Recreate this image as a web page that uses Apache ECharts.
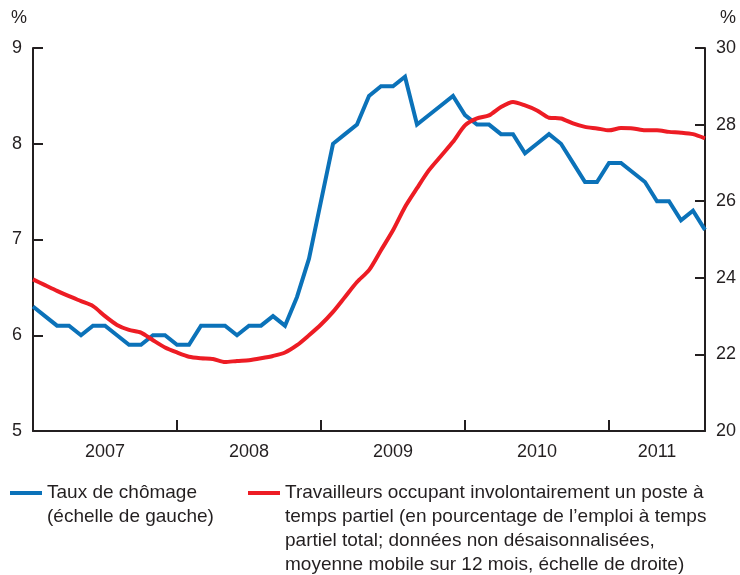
<!DOCTYPE html>
<html>
<head>
<meta charset="utf-8">
<script src="https://cdn.jsdelivr.net/npm/echarts@6/dist/echarts.min.js"></script>
<style>
  html, body { margin: 0; padding: 0; background: #fff; }
  #chart { width: 740px; height: 575px; }
</style>
</head>
<body>
<div id="chart"></div>
<script>
// monthly, Jan 2007 - Sep 2011
const months = [];
for (let y = 2007; y <= 2011; y++) {
  for (let m = 1; m <= 12; m++) {
    if (y === 2011 && m > 9) break;
    months.push(y + '-' + (m < 10 ? '0' + m : m));
  }
}

// year labels, shown under the middle of each year
const yearLabels = {
  '2007-07': '2007',
  '2008-07': '2008',
  '2009-07': '2009',
  '2010-07': '2010',
  '2011-05': '2011'
};

// unemployment rate, left scale
const unemployment = [
  6.3, 6.2, 6.1, 6.1, 6.0, 6.1, 6.1, 6.0, 5.9, 5.9, 6.0, 6.0,
  5.9, 5.9, 6.1, 6.1, 6.1, 6.0, 6.1, 6.1, 6.2, 6.1, 6.4, 6.8,
  7.4, 8.0, 8.1, 8.2, 8.5, 8.6, 8.6, 8.7, 8.2, 8.3, 8.4, 8.5,
  8.3, 8.2, 8.2, 8.1, 8.1, 7.9, 8.0, 8.1, 8.0, 7.8, 7.6, 7.6,
  7.8, 7.8, 7.7, 7.6, 7.4, 7.4, 7.2, 7.3, 7.1
];

// involuntary part-time workers, right scale
const involuntaryPartTime = [
  23.96, 23.81, 23.66, 23.52, 23.39, 23.26, 23.0, 22.77, 22.64, 22.57, 22.37, 22.18,
  22.05, 21.94, 21.9, 21.88, 21.8, 21.83, 21.85, 21.9, 21.96, 22.05, 22.24, 22.5,
  22.78, 23.11, 23.5, 23.89, 24.2, 24.72, 25.24, 25.85, 26.34, 26.81, 27.18, 27.55,
  27.98, 28.16, 28.24, 28.46, 28.59, 28.5, 28.37, 28.18, 28.16, 28.03, 27.94, 27.9,
  27.85, 27.91, 27.9, 27.85, 27.85, 27.81, 27.79, 27.75, 27.64
];

const nameBlue = 'Taux de chômage\n(échelle de gauche)';
const nameRed = 'Travailleurs occupant involontairement un poste à\ntemps partiel (en pourcentage de l’emploi à temps\npartiel total; données non désaisonnalisées,\nmoyenne mobile sur 12 mois, échelle de droite)';

const ink = '#231f20';
const font = 'Liberation Sans, Arial, Helvetica, sans-serif';
const blue = '#0b72b9';
const red = '#ed1c24';

// pad the legend text with blank lines on top so the icon sits on the first line
const alignFirstLine = (name) => '\n'.repeat(name.split('\n').length - 1) + name;

const chart = echarts.init(document.getElementById('chart'));

const axisLine = { show: true, lineStyle: { color: ink, width: 2 } };
const legendText = { fontFamily: font, fontSize: 19, color: ink, lineHeight: 24 };

chart.setOption({
  animation: false,
  textStyle: { fontFamily: font, color: ink },
  grid: { left: 33, right: 35, top: 48, bottom: 144, containLabel: false },
  legend: [
    {
      left: 10, top: 457, padding: 0,
      icon: 'rect', itemWidth: 32, itemHeight: 4,
      data: [nameBlue],
      formatter: alignFirstLine,
      textStyle: legendText
    },
    {
      left: 248, top: 409, padding: 0,
      icon: 'rect', itemWidth: 32, itemHeight: 4,
      data: [nameRed],
      formatter: alignFirstLine,
      textStyle: legendText
    }
  ],
  xAxis: {
    type: 'category',
    data: months,
    boundaryGap: false,
    axisLine: axisLine,
    axisTick: {
      show: true,
      inside: true,
      length: 11,
      interval: (i) => i % 12 === 0,
      lineStyle: { color: ink, width: 2 }
    },
    axisLabel: {
      interval: (i, v) => yearLabels[v] !== undefined,
      formatter: (v) => yearLabels[v] || '',
      fontSize: 18,
      color: ink,
      margin: 12
    },
    splitLine: { show: false }
  },
  yAxis: [
    {
      type: 'value',
      min: 5, max: 9, interval: 1,
      name: '%',
      nameLocation: 'end',
      nameGap: 21,
      nameTextStyle: { fontSize: 18, color: ink, padding: [0, 28, 0, 0] },
      axisLine: axisLine,
      axisTick: { show: true, inside: true, length: 10, lineStyle: { color: ink, width: 2 } },
      axisLabel: { fontSize: 18, color: ink, margin: 11 },
      splitLine: { show: false }
    },
    {
      type: 'value',
      min: 20, max: 30, interval: 2,
      position: 'right',
      name: '%',
      nameLocation: 'end',
      nameGap: 21,
      nameTextStyle: { fontSize: 18, color: ink, padding: [0, 0, 0, 46] },
      axisLine: axisLine,
      axisTick: { show: true, inside: true, length: 10, lineStyle: { color: ink, width: 2 } },
      axisLabel: { fontSize: 18, color: ink, margin: 11 },
      splitLine: { show: false }
    }
  ],
  series: [
    {
      name: nameBlue,
      type: 'line',
      yAxisIndex: 0,
      data: unemployment,
      symbol: 'none',
      lineStyle: { color: blue, width: 4, join: 'miter' },
      itemStyle: { color: blue }
    },
    {
      name: nameRed,
      type: 'line',
      yAxisIndex: 1,
      data: involuntaryPartTime,
      symbol: 'none',
      smooth: 0.25,
      lineStyle: { color: red, width: 4 },
      itemStyle: { color: red }
    }
  ]
});
</script>
</body>
</html>
